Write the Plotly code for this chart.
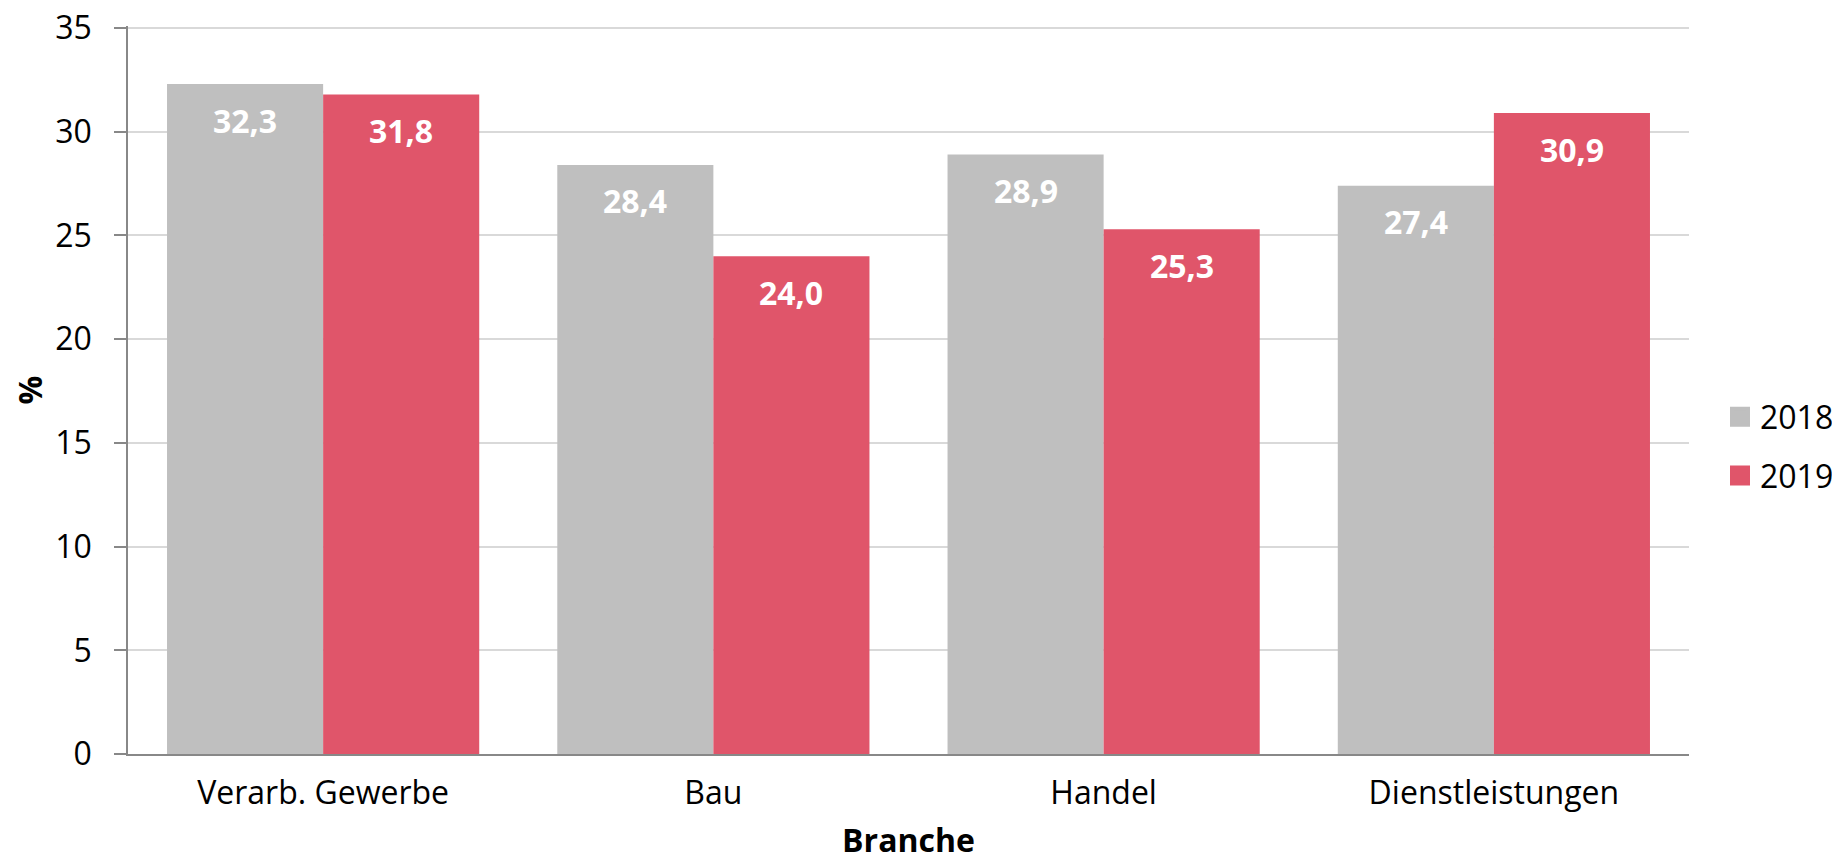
import plotly.graph_objects as go

categories = ["Verarb. Gewerbe", "Bau", "Handel", "Dienstleistungen"]
series_names = ["2018", "2019"]
values_2018 = [32.3, 28.4, 28.9, 27.4]
values_2019 = [31.8, 24.0, 25.3, 30.9]
y_ticks = [0, 5, 10, 15, 20, 25, 30, 35]

GRAY = "#bfbfbf"
RED = "#e0556a"
FONT = "Open Sans"
FS = 32
W, H = 1832, 853  # page body has an 8px default margin

def fmt(v):
    return f"{v:.1f}".replace(".", ",")

fig = go.Figure()
for name, vals, col in [(series_names[0], values_2018, GRAY), (series_names[1], values_2019, RED)]:
    fig.add_trace(go.Bar(
        x=categories, y=vals, name=name, marker=dict(color=col, line=dict(width=0)),
        showlegend=False, hoverinfo="x+y",
    ))
    fig.add_trace(go.Scatter(
        x=[None], y=[None], mode="markers", name=name, legendgroup=name,
        marker=dict(symbol="square", size=16, color=col, line=dict(color=col, width=4)),
    ))

annotations = []
for vals, shift in [(values_2018, -78), (values_2019, 78)]:
    for c, v in zip(categories, vals):
        annotations.append(dict(
            x=c, y=v, xref="x", yref="y", text=fmt(v), showarrow=False,
            xshift=shift, yshift=-36, yanchor="middle",
            font=dict(family=FONT, size=FS, color="white", weight="bold"),
        ))

fig.update_layout(
    width=W, height=H,
    paper_bgcolor="white", plot_bgcolor="white",
    margin=dict(l=120, r=151, t=18, b=107, autoexpand=False),
    barmode="group", bargap=0.2, bargroupgap=0,
    font=dict(family=FONT, size=FS, color="#000000"),
    annotations=annotations,
    legend=dict(
        xref="container", yref="container",
        x=1712 / W, xanchor="left", y=(H - 438.5) / H, yanchor="middle",
        font=dict(family=FONT, size=FS, color="#000000"),
        traceorder="grouped", tracegroupgap=14, itemwidth=30,
    ),
    xaxis=dict(
        showgrid=False, showline=True, linecolor="#888888", linewidth=2,
        ticks="", ticklabelstandoff=10, automargin=False,
        title=dict(text="<b>Branche</b>", font=dict(family=FONT, size=FS), standoff=20),
    ),
    yaxis=dict(
        range=[0, 35.1], tickvals=y_ticks, showgrid=True, gridcolor="#d9d9d9", gridwidth=1.5,
        showline=True, linecolor="#888888", linewidth=1.5,
        ticks="outside", ticklen=12, tickcolor="#888888", tickwidth=1.5,
        ticklabelstandoff=16, ticklabeloverflow="allow", zeroline=False, automargin=False,
        title=dict(text="<b>%</b>", font=dict(family=FONT, size=FS), standoff=6),
    ),
)

fig.write_html("out.html")
